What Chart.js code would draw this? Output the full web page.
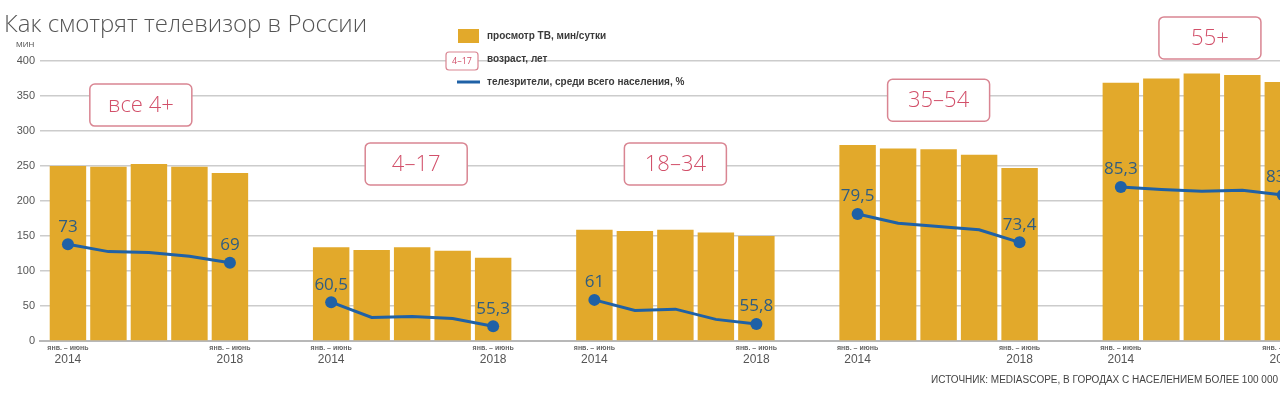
<!DOCTYPE html>
<html lang="ru">
<head>
<meta charset="utf-8">
<title>Как смотрят телевизор в России</title>
<script src="https://cdn.jsdelivr.net/npm/chart.js@4"></script>
<style>
  html, body { margin: 0; padding: 0; background: #fff; overflow: hidden; }
  #wrap { position: relative; width: 1320px; height: 394px; }
</style>
</head>
<body>
<div id="wrap"><canvas id="tvChart"></canvas></div>
<script>
// age groups and years (jan - june of each year)
const groups = ['все 4+', '4–17', '18–34', '35–54', '55+'];
const years = ['2014', '2015', '2016', '2017', '2018'];

// TV viewing, minutes per day
const minutesAll = [250, 249, 253, 249, 240];
const minutes4to17 = [134, 130, 134, 129, 119];
const minutes18to34 = [159, 157, 159, 155, 150];
const minutes35to54 = [280, 275, 274, 266, 247];
const minutes55plus = [369, 375, 382, 380, 370];

// viewers, % of whole population
const viewersAll = [73, 71.4, 71.2, 70.4, 69];
const viewers4to17 = [60.5, 57.2, 57.4, 57.0, 55.3];
const viewers18to34 = [61, 58.7, 59.0, 56.8, 55.8];
const viewers35to54 = [79.5, 77.5, 76.8, 76.1, 73.4];
const viewers55plus = [85.3, 84.8, 84.4, 84.6, 83.6];

// axis
const yTicks = [0, 50, 100, 150, 200, 250, 300, 350, 400];
const periodLabel = 'янв. – июнь';
const edgeYears = ['2014', '2018'];

const minutesByGroup = [minutesAll, minutes4to17, minutes18to34, minutes35to54, minutes55plus];
const viewersByGroup = [viewersAll, viewers4to17, viewers18to34, viewers35to54, viewers55plus];

const GROUP_STEP = 6.5; // bar slots per group incl. gap
const X_MIN = -0.69;
const X_MAX = 30.77; // last group runs past the right edge of the window

const BAR_COLOR = '#e2a92b';
const LINE_COLOR = '#1f61a6';
const LABEL_COLOR = '#2e5c82';
const BOX_COLOR = '#d98592';
const BOX_TEXT = '#d2506a';

const xOf = (g, i) => g * GROUP_STEP + i;

// bar dataset
const barData = [];
minutesByGroup.forEach((arr, g) => {
    arr.forEach((v, i) => barData.push({ x: xOf(g, i), y: v }));
});

// one line per age group
const lineSets = viewersByGroup.map((arr, g) => ({
    type: 'line',
    label: 'телезрители ' + groups[g],
    data: arr.map((v, i) => ({ x: xOf(g, i), y: v })),
    xAxisID: 'x',
    yAxisID: 'p',
    borderColor: LINE_COLOR,
    backgroundColor: LINE_COLOR,
    borderWidth: 3,
    tension: 0,
    pointRadius: ctx => (ctx.dataIndex === 0 || ctx.dataIndex === arr.length - 1) ? 6 : 0,
    pointBorderWidth: 0,
    order: 0
}));

// x tick positions: first and last bar of each group
const edgeTicks = [];
groups.forEach((name, g) => {
    edgeTicks.push(xOf(g, 0));
    edgeTicks.push(xOf(g, years.length - 1));
});

// labels, boxes, legend, title
const decorPlugin = {
    id: 'decor',
    afterDatasetsDraw(chart, args, opts) {
        const c = chart.ctx;
        const xs = chart.scales.x;
        const ys = chart.scales.y;

        // value labels at ends of each line
        c.save();
        c.font = '17px "Open Sans"';
        c.fillStyle = LABEL_COLOR;
        c.textAlign = 'center';
        c.textBaseline = 'bottom';
        lineSets.forEach((ds, k) => {
            const meta = chart.getDatasetMeta(k);
            const vals = viewersByGroup[k];
            [0, vals.length - 1].forEach(i => {
                const pt = meta.data[i];
                c.fillText(String(vals[i]).replace('.', ','), pt.x, pt.y - 9);
            });
        });
        c.restore();

        // age group boxes
        c.save();
        groups.forEach((name, g) => {
            const cx = xs.getPixelForValue(opts.boxX[g]);
            const cy = ys.getPixelForValue(opts.boxY[g]);
            const w = 102, h = 42;
            c.beginPath();
            c.roundRect(cx - w / 2, cy - h / 2, w, h, 5);
            c.fillStyle = '#fff';
            c.fill();
            c.lineWidth = 1.5;
            c.strokeStyle = BOX_COLOR;
            c.stroke();
            c.font = '300 22px "Open Sans"';
            c.fillStyle = BOX_TEXT;
            c.textAlign = 'center';
            c.textBaseline = 'middle';
            c.fillText(name, cx, cy + 1);
        });
        c.restore();
    },
    afterDraw(chart) {
        const c = chart.ctx;
        c.save();

        // title
        c.font = '300 24px "Open Sans"';
        c.fillStyle = '#555';
        c.textAlign = 'left';
        c.textBaseline = 'alphabetic';
        c.fillText('Как смотрят телевизор в России', 4, 32);

        // unit
        c.font = '8px "Liberation Sans"';
        c.fillStyle = '#555';
        c.textBaseline = 'middle';
        c.fillText('МИН', 16, 45);

        // legend
        c.fillStyle = BAR_COLOR;
        c.fillRect(458, 29, 21, 14);
        c.beginPath();
        c.roundRect(446, 52, 32, 18, 3);
        c.fillStyle = '#fff';
        c.fill();
        c.lineWidth = 1.2;
        c.strokeStyle = BOX_COLOR;
        c.stroke();
        c.font = '9px "Open Sans"';
        c.fillStyle = BOX_TEXT;
        c.textAlign = 'center';
        c.fillText('4–17', 462, 61);
        c.strokeStyle = LINE_COLOR;
        c.lineWidth = 3;
        c.beginPath();
        c.moveTo(457, 82);
        c.lineTo(480, 82);
        c.stroke();
        c.font = 'bold 10px "Liberation Sans"';
        c.fillStyle = '#3a3a3a';
        c.textAlign = 'left';
        c.fillText('просмотр ТВ, мин/сутки', 487, 36);
        c.fillText('возраст, лет', 487, 59);
        c.fillText('телезрители, среди всего населения, %', 487, 82);

        // source
        c.font = '10px "Liberation Sans"';
        c.fillStyle = '#444';
        c.textAlign = 'right';
        c.fillText('ИСТОЧНИК: MEDIASCOPE, В ГОРОДАХ С НАСЕЛЕНИЕМ БОЛЕЕ 100 000', 1278, 380);
        c.restore();
    }
};

Chart.defaults.font.family = '"Liberation Sans", sans-serif';
Chart.defaults.color = '#555';

new Chart(document.getElementById('tvChart'), {
    type: 'bar',
    data: {
        datasets: [
            ...lineSets,
            {
                type: 'bar',
                label: 'просмотр ТВ, мин/сутки',
                data: barData,
                xAxisID: 'x',
                yAxisID: 'y',
                backgroundColor: BAR_COLOR,
                borderWidth: 0,
                barPercentage: 0.9,
                categoryPercentage: 1,
                order: 1
            }
        ]
    },
    options: {
        responsive: true,
        maintainAspectRatio: false,
        animation: false,
        layout: { padding: { top: 61, left: 0, right: 0, bottom: 29 } },
        plugins: {
            legend: { display: false },
            tooltip: { enabled: false },
            decor: {
                boxX: [1.8, 8.6, 15.0, 21.5, 28.2],
                boxY: [337, 253, 253, 344, 433]
            }
        },
        scales: {
            x: {
                type: 'linear',
                position: 'bottom',
                min: X_MIN,
                max: X_MAX,
                offset: false,
                weight: 0,
                grid: { display: false, drawTicks: false, offset: false },
                border: { display: true, color: '#b8b8b8', width: 2 },
                afterBuildTicks: s => { s.ticks = edgeTicks.map(v => ({ value: v })); },
                afterFit: s => { s.height = 10; },
                ticks: {
                    autoSkip: false,
                    maxRotation: 0,
                    padding: 3,
                    color: '#666',
                    font: { size: 7, weight: 'bold' },
                    callback: () => periodLabel
                }
            },
            x2: {
                type: 'linear',
                position: 'bottom',
                min: X_MIN,
                max: X_MAX,
                offset: false,
                weight: 1,
                grid: { display: false, drawTicks: false, offset: false },
                border: { display: false },
                afterBuildTicks: s => { s.ticks = edgeTicks.map(v => ({ value: v })); },
                afterFit: s => { s.height = 14; },
                ticks: {
                    autoSkip: false,
                    maxRotation: 0,
                    padding: 1,
                    color: '#555',
                    font: { family: '"Liberation Sans Narrow", "Liberation Sans"', size: 12 },
                    callback: (v, i) => edgeYears[i % 2]
                }
            },
            y: {
                position: 'left',
                min: 0,
                max: 400,
                afterBuildTicks: s => { s.ticks = yTicks.map(v => ({ value: v })); },
                afterFit: s => { s.width = 40; },
                grid: { color: '#cccccc', lineWidth: 1.5, drawTicks: false },
                border: { display: false },
                ticks: {
                    padding: 5,
                    color: '#555',
                    font: { family: '"Liberation Sans Narrow", "Liberation Sans"', size: 11 }
                }
            },
            p: {
                display: false,
                min: 52.14,
                max: 112.47
            }
        }
    },
    plugins: [decorPlugin]
});
</script>
</body>
</html>
